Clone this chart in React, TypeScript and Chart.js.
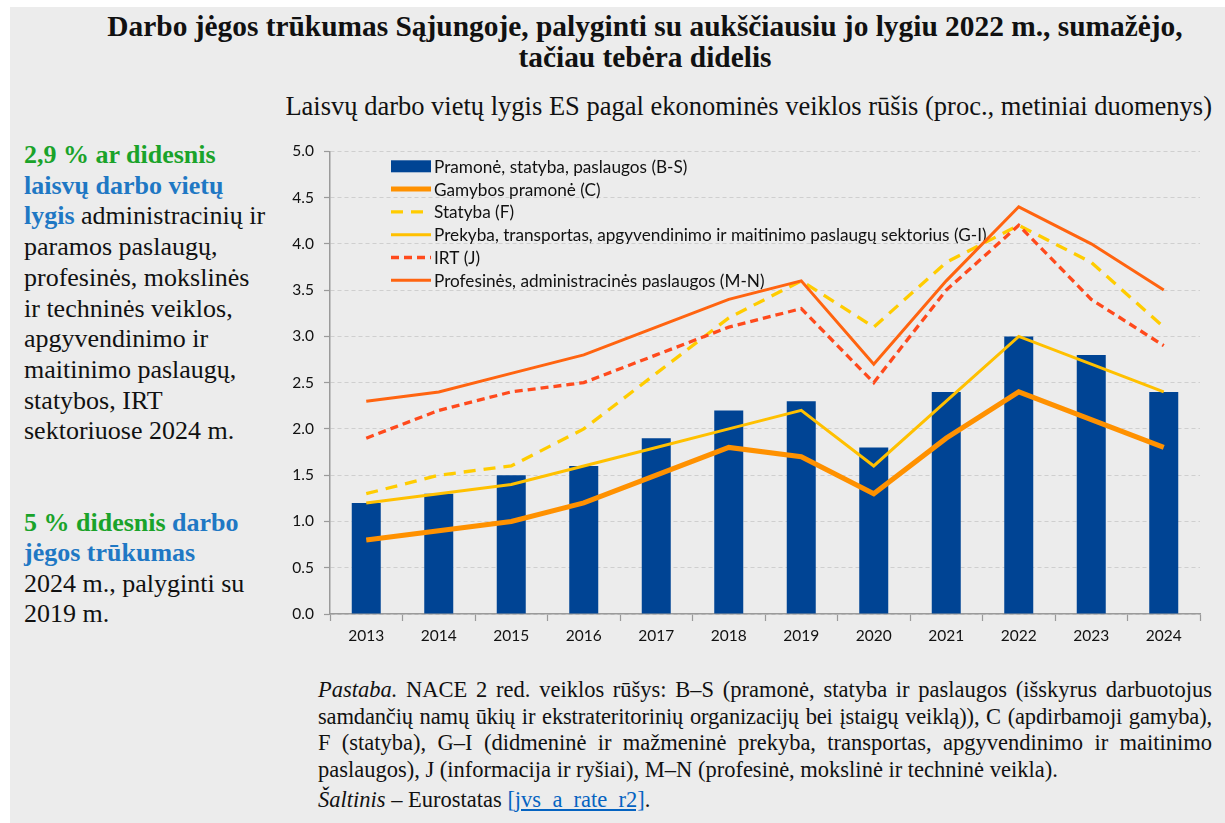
import React, { useEffect, useRef } from 'react';
import { Chart, registerables } from 'chart.js';

Chart.register(...registerables);

// ---- Data ----
const years = ['2013', '2014', '2015', '2016', '2017', '2018', '2019', '2020', '2021', '2022', '2023', '2024'];
const industryBS = [1.2, 1.3, 1.5, 1.6, 1.9, 2.2, 2.3, 1.8, 2.4, 3.0, 2.8, 2.4];
const manufacturingC = [0.8, 0.9, 1.0, 1.2, 1.5, 1.8, 1.7, 1.3, 1.9, 2.4, 2.1, 1.8];
const constructionF = [1.3, 1.5, 1.6, 2.0, 2.6, 3.2, 3.6, 3.1, 3.8, 4.2, 3.8, 3.1];
const tradeGI = [1.2, 1.3, 1.4, 1.6, 1.8, 2.0, 2.2, 1.6, 2.3, 3.0, 2.7, 2.4];
const ictJ = [1.9, 2.2, 2.4, 2.5, 2.8, 3.1, 3.3, 2.5, 3.5, 4.2, 3.4, 2.9];
const professionalMN = [2.3, 2.4, 2.6, 2.8, 3.1, 3.4, 3.6, 2.7, 3.6, 4.4, 4.0, 3.5];

const seriesLabels = [
  'Pramonė, statyba, paslaugos (B-S)',
  'Gamybos pramonė (C)',
  'Statyba (F)',
  'Prekyba, transportas, apgyvendinimo ir maitinimo paslaugų sektorius (G-I)',
  'IRT (J)',
  'Profesinės, administracinės paslaugos (M-N)',
];

const yMin = 0;
const yMax = 5;
const yStep = 0.5;

const AXIS_FONT = 'Lato';

const insideLegend = {
  id: 'insideLegend',
  beforeDatasetsDraw(chart: any) {
    const { ctx, chartArea } = chart;
    const x0 = chartArea.left + 61;
    const symW = 40;
    ctx.save();
    ctx.font = `17.2px ${AXIS_FONT}`;
    ctx.textBaseline = 'middle';
    ctx.textAlign = 'left';
    chart.data.datasets.forEach((ds: any, i: number) => {
      const y = chartArea.top + 15 + i * 22.8;
      if (ds.type === 'bar') {
        ctx.fillStyle = ds.backgroundColor;
        ctx.fillRect(x0, y - 6, symW, 12);
      } else {
        ctx.beginPath();
        ctx.strokeStyle = ds.borderColor;
        ctx.lineWidth = ds.borderWidth;
        ctx.setLineDash(ds.borderDash || []);
        ctx.moveTo(x0, y);
        ctx.lineTo(x0 + symW, y);
        ctx.stroke();
        ctx.setLineDash([]);
      }
      ctx.fillStyle = '#111';
      ctx.fillText(ds.label, x0 + symW + 3, y + 1);
    });
    ctx.restore();
  },
};

function VacancyChart() {
  const ref = useRef<HTMLCanvasElement | null>(null);
  useEffect(() => {
    if (!ref.current) return;
    const chart = new Chart(ref.current, {
      type: 'bar',
      data: {
        labels: years,
        datasets: [
          {
            type: 'bar',
            label: seriesLabels[0],
            data: industryBS,
            backgroundColor: '#004494',
            borderWidth: 0,
            barPercentage: 0.8,
            categoryPercentage: 0.5,
            order: 10,
          } as any,
          {
            type: 'line',
            label: seriesLabels[1],
            data: manufacturingC,
            borderColor: '#FF9100',
            borderWidth: 5,
            pointRadius: 0,
            tension: 0,
            order: 5,
          },
          {
            type: 'line',
            label: seriesLabels[2],
            data: constructionF,
            borderColor: '#FFCC00',
            borderWidth: 3.3,
            borderDash: [12, 8],
            pointRadius: 0,
            tension: 0,
            order: 4,
          },
          {
            type: 'line',
            label: seriesLabels[3],
            data: tradeGI,
            borderColor: '#FFC000',
            borderWidth: 3,
            pointRadius: 0,
            tension: 0,
            order: 3,
          },
          {
            type: 'line',
            label: seriesLabels[4],
            data: ictJ,
            borderColor: '#FF4A1C',
            borderWidth: 3.3,
            borderDash: [8, 5],
            pointRadius: 0,
            tension: 0,
            order: 2,
          },
          {
            type: 'line',
            label: seriesLabels[5],
            data: professionalMN,
            borderColor: '#FF6410',
            borderWidth: 3,
            pointRadius: 0,
            tension: 0,
            order: 1,
          },
        ],
      },
      options: {
        animation: false,
        responsive: false,
        maintainAspectRatio: false,
        layout: { padding: { top: 2, right: 10, left: 0, bottom: 0 } },
        plugins: {
          legend: { display: false },
          tooltip: { enabled: false },
          title: { display: false },
        },
        scales: {
          x: {
            offset: true,
            grid: {
              display: true,
              offset: true,
              drawOnChartArea: false,
              drawTicks: true,
              tickLength: 7,
              tickColor: '#9a9a9a',
              tickWidth: 1.2,
            },
            border: { display: true, color: '#9a9a9a', width: 1.5 },
            ticks: {
              color: '#111',
              font: { family: AXIS_FONT, size: 15.5 },
              padding: 6,
              maxRotation: 0,
            },
            afterFit: (s: any) => {
              s.height = 40;
            },
          },
          y: {
            min: yMin,
            max: yMax,
            ticks: {
              stepSize: yStep,
              color: '#111',
              font: { family: AXIS_FONT, size: 15.5 },
              padding: 10,
              callback: (v: any) => Number(v).toFixed(1),
            },
            grid: {
              color: '#cfcfcf',
              lineWidth: 1,
              drawTicks: true,
              tickLength: 6,
              tickColor: '#9a9a9a',
              tickWidth: 1.2,
            },
            border: { display: true, color: '#9a9a9a', width: 1.5, dash: [4, 3] },
            afterFit: (s: any) => {
              s.width = 50;
            },
          },
        },
      },
      plugins: [insideLegend],
    });
    return () => chart.destroy();
  }, []);
  return (
    <canvas
      ref={ref}
      width={930}
      height={522}
      style={{ position: 'absolute', left: 280, top: 132, width: 930, height: 522 }}
    />
  );
}

const green: React.CSSProperties = { color: '#1aa32a', fontWeight: 'bold' };
const blue: React.CSSProperties = { color: '#1f78c4', fontWeight: 'bold' };
const justified: React.CSSProperties = { textAlign: 'justify', textAlignLast: 'justify' };

export default function App() {
  return (
    <div
      style={{
        position: 'fixed',
        left: 0,
        top: 0,
        width: 1225,
        height: 823,
        background: '#ffffff',
        overflow: 'hidden',
        fontFamily: '"Liberation Serif", "Times New Roman", serif',
        color: '#111',
      }}
    >
      <div style={{ position: 'absolute', left: 10, top: 7, width: 1215, height: 816, background: '#ececec' }} />
      <div
        style={{
          position: 'absolute',
          left: 45,
          top: 11,
          width: 1200,
          textAlign: 'center',
          fontWeight: 'bold',
          fontSize: 29.4,
          lineHeight: '31px',
          whiteSpace: 'nowrap',
        }}
      >
        <div>Darbo jėgos trūkumas Sąjungoje, palyginti su aukščiausiu jo lygiu 2022 m., sumažėjo,</div>
        <div>tačiau tebėra didelis</div>
      </div>
      <div
        style={{
          position: 'absolute',
          left: 0,
          top: 91,
          width: 1212,
          textAlign: 'right',
          fontSize: 26.5,
          lineHeight: '30px',
          whiteSpace: 'nowrap',
        }}
      >
        Laisvų darbo vietų lygis ES pagal ekonominės veiklos rūšis (proc., metiniai duomenys)
      </div>

      <div style={{ position: 'absolute', left: 24, top: 140, fontSize: 26, lineHeight: '30.7px', whiteSpace: 'nowrap' }}>
        <div><span style={green}>2,9 % ar didesnis</span></div>
        <div><span style={blue}>laisvų darbo vietų</span></div>
        <div><span style={blue}>lygis</span> administracinių ir</div>
        <div>paramos paslaugų,</div>
        <div>profesinės, mokslinės</div>
        <div>ir techninės veiklos,</div>
        <div>apgyvendinimo ir</div>
        <div>maitinimo paslaugų,</div>
        <div>statybos, IRT</div>
        <div>sektoriuose 2024 m.</div>
      </div>
      <div style={{ position: 'absolute', left: 24, top: 508, fontSize: 26, lineHeight: '30.3px', whiteSpace: 'nowrap' }}>
        <div><span style={green}>5 % didesnis</span> <span style={blue}>darbo</span></div>
        <div><span style={blue}>jėgos trūkumas</span></div>
        <div>2024 m., palyginti su</div>
        <div>2019 m.</div>
      </div>

      <VacancyChart />

      <div style={{ position: 'absolute', left: 318, top: 677, width: 894, fontSize: 22.5, lineHeight: '26.7px' }}>
        <div style={justified}>
          <i>Pastaba.</i> NACE 2 red. veiklos rūšys: B–S (pramonė, statyba ir paslaugos (išskyrus darbuotojus
        </div>
        <div style={{ ...justified, wordSpacing: -4, letterSpacing: -0.15 }}>
          samdančių namų ūkių ir ekstrateritorinių organizacijų bei įstaigų veiklą)), C (apdirbamoji gamyba),
        </div>
        <div style={justified}>
          F (statyba), G–I (didmeninė ir mažmeninė prekyba, transportas, apgyvendinimo ir maitinimo
        </div>
        <div>paslaugos), J (informacija ir ryšiai), M–N (profesinė, mokslinė ir techninė veikla).</div>
        <div style={{ marginTop: 3 }}>
          <i>Šaltinis</i> – Eurostatas{' '}
          <span style={{ color: '#0563c1', textDecoration: 'underline' }}>[jvs_a_rate_r2]</span>.
        </div>
      </div>
    </div>
  );
}
